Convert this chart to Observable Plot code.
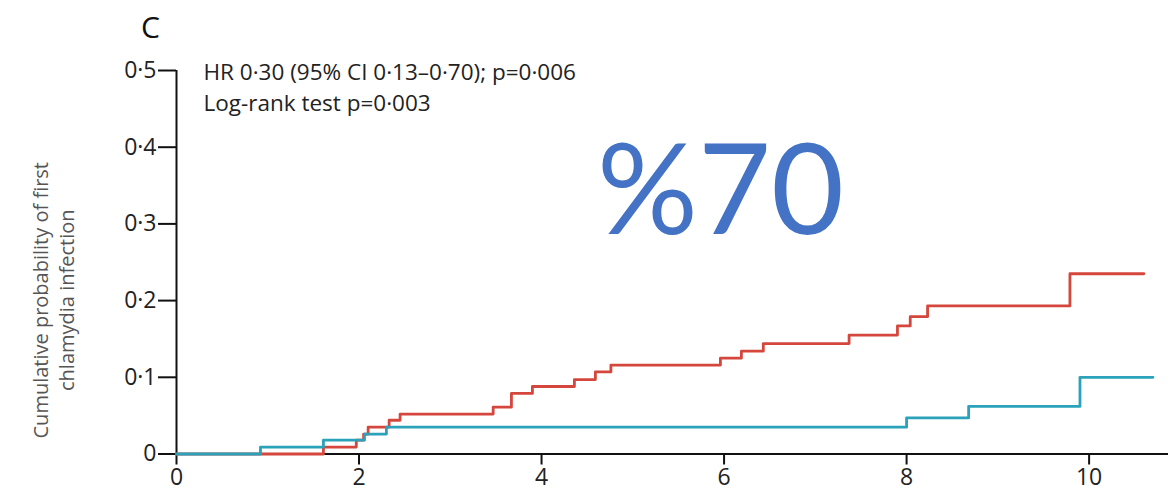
<!DOCTYPE html>
<html>
<head>
<meta charset="utf-8">
<script src="https://cdn.jsdelivr.net/npm/d3@7"></script>
<script src="https://cdn.jsdelivr.net/npm/@observablehq/plot@0.6"></script>
<style>
  html, body { margin: 0; padding: 0; background: #fff; }
  #chart { width: 1170px; height: 491px; }
</style>
</head>
<body>
<div id="chart"></div>
<script>
// ---- data ----
const redTimes  = [0, 1.61, 1.97, 2.05, 2.10, 2.33, 2.45, 3.47, 3.67, 3.90, 4.36, 4.59, 4.76, 5.96, 6.19, 6.43, 7.37, 7.90, 8.04, 8.23, 9.79, 10.60];
const redValues = [0, 0.009, 0.018, 0.026, 0.035, 0.044, 0.052, 0.061, 0.079, 0.088, 0.097, 0.107, 0.116, 0.125, 0.134, 0.144, 0.155, 0.167, 0.179, 0.193, 0.235, 0.235];
const blueTimes  = [0, 0.92, 1.61, 2.06, 2.30, 8.00, 8.68, 9.90, 10.70];
const blueValues = [0, 0.009, 0.018, 0.026, 0.035, 0.047, 0.062, 0.100, 0.100];
const xTicks = [0, 2, 4, 6, 8, 10];
const yTicks = [0, 0.1, 0.2, 0.3, 0.4, 0.5];
const panelLabel = "C";
const statLines = ["HR 0·30 (95% CI 0·13–0·70); p=0·006", "Log-rank test p=0·003"];
const yLabel = "Cumulative probability of first\nchlamydia infection";
const overlayText = "%70";

const red = redTimes.map((t, i) => ({t, v: redValues[i]}));
const blue = blueTimes.map((t, i) => ({t, v: blueValues[i]}));

const font = "Open Sans";
const fmtY = d => d === 0 ? "0" : d.toFixed(1).replace(".", "·");

const chart = Plot.plot({
  width: 1170,
  height: 491,
  marginLeft: 176,
  marginRight: 2,
  marginTop: 70,
  marginBottom: 37.5,
  style: {fontFamily: font, fontSize: "22px", color: "#222", background: "#fff", overflow: "visible"},
  x: {domain: [0, 10.87]},
  y: {domain: [0, 0.5]},
  marks: [
    Plot.axisY({ticks: yTicks, tickFormat: fmtY, tickSize: 18, tickPadding: 2, strokeWidth: 2, stroke: "#111", fontSize: 23, fill: "#222", label: null}),
    Plot.axisX({ticks: xTicks, tickFormat: d => String(d), tickSize: 11, tickPadding: 4, strokeWidth: 2, stroke: "#111", fontSize: 23, fill: "#222", label: null}),
    Plot.ruleY([0], {stroke: "#111", strokeWidth: 2}),
    Plot.ruleX([0], {y1: 0, y2: 0.5, stroke: "#111", strokeWidth: 2}),
    Plot.line(red, {x: "t", y: "v", curve: "step-after", stroke: "#d5473d", strokeWidth: 2.8}),
    Plot.line(blue, {x: "t", y: "v", curve: "step-after", stroke: "#2aa2b9", strokeWidth: 2.8}),
    Plot.text([panelLabel], {frameAnchor: "top-left", dx: -26, dy: -42, text: d => d, fontSize: 30, fontWeight: 500, fill: "#111", textAnchor: "middle", lineAnchor: "middle"}),
    Plot.text([statLines[0]], {frameAnchor: "top-left", dx: 27, dy: 2, text: d => d, fontSize: 22.5, fill: "#222", textAnchor: "start", lineAnchor: "middle"}),
    Plot.text([statLines[1]], {frameAnchor: "top-left", dx: 27, dy: 33, text: d => d, fontSize: 22.5, fill: "#222", textAnchor: "start", lineAnchor: "middle"}),
    Plot.text([yLabel], {frameAnchor: "left", dx: -124, dy: 38, rotate: -90, text: d => d, fontSize: 20, lineHeight: 1.3, fill: "#555", textAnchor: "middle", lineAnchor: "middle"}),
    Plot.text([overlayText], {frameAnchor: "top-left", dx: 544, dy: 123, text: d => d, fontFamily: "Lato", fontSize: 126, fill: "#4472c4", textAnchor: "middle", lineAnchor: "middle"})
  ]
});
document.getElementById("chart").appendChild(chart);
</script>
</body>
</html>
